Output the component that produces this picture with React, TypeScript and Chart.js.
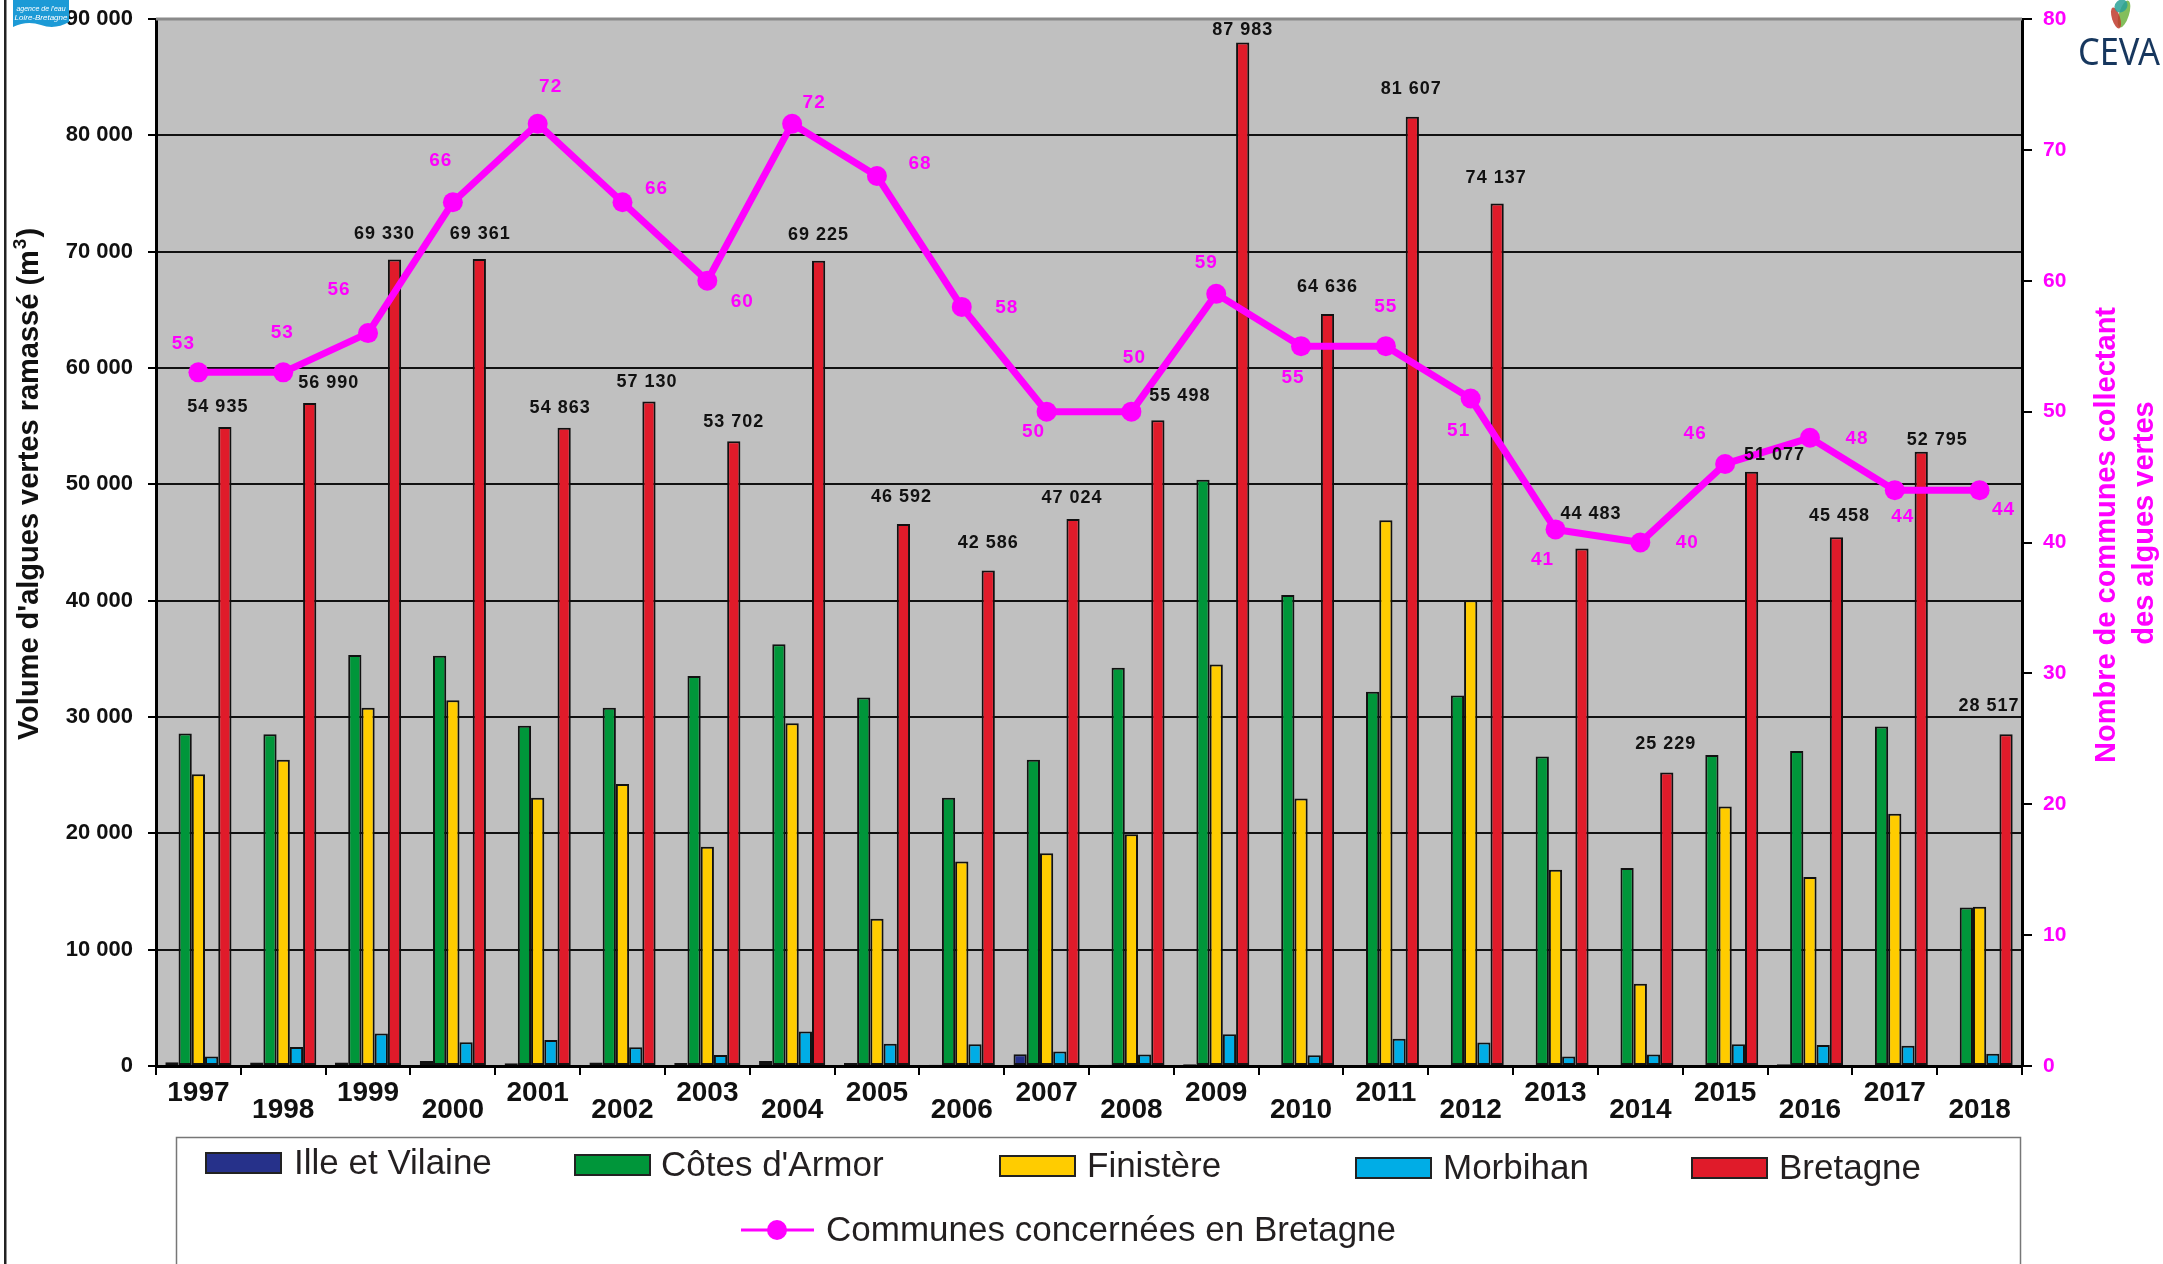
import React, { useEffect, useRef } from 'react';
import { Chart, registerables } from 'chart.js';

Chart.register(...registerables);

// ---------- data ----------
const years = ['1997', '1998', '1999', '2000', '2001', '2002', '2003', '2004', '2005', '2006', '2007', '2008', '2009', '2010', '2011', '2012', '2013', '2014', '2015', '2016', '2017', '2018'];
const illeEtVilaine = [330, 300, 300, 430, 230, 300, 260, 430, 260, 100, 1020, 100, 160, 70, 70, 70, 70, 70, 70, 160, 70, 70];
const cotesDArmor = [28590, 28520, 35330, 35260, 29240, 30790, 33520, 36250, 31680, 23060, 26320, 34240, 50400, 40490, 32170, 31840, 26610, 17010, 26740, 27070, 29180, 13620];
const finistere = [25070, 26320, 30790, 31450, 23060, 24240, 18850, 29470, 12660, 17570, 18290, 19930, 34510, 22990, 46910, 40030, 16875, 7070, 22300, 16250, 21680, 13680];
const morbihan = [820, 1640, 2800, 2040, 2240, 1610, 950, 2960, 1910, 1875, 1250, 990, 2730, 920, 2340, 2010, 820, 990, 1875, 1810, 1740, 1050];
const bretagne = [54935, 56990, 69330, 69361, 54863, 57130, 53702, 69225, 46592, 42586, 47024, 55498, 87983, 64636, 81607, 74137, 44483, 25229, 51077, 45458, 52795, 28517];
const communes = [53, 53, 56, 66, 72, 66, 60, 72, 68, 58, 50, 50, 59, 55, 55, 51, 41, 40, 46, 48, 44, 44];

const volumeMax = 90000;
const volumeStep = 10000;
const communesMax = 80;
const communesStep = 10;

const seriesNames = ['Ille et Vilaine', "Côtes d'Armor", 'Finistère', 'Morbihan', 'Bretagne'];
const lineName = 'Communes concernées en Bretagne';
const leftTitleMain = "Volume d'algues vertes ramassé (m";
const leftTitleSup = '3';
const leftTitleEnd = ')';
const rightTitleLines = ['Nombre de communes collectant', 'des algues vertes'];

// ---------- styling (label nudges, px, relative to mark) ----------
const barLabelNudge: [number, number][] = [
  [-7, -20], [19, -20], [-10, -25], [1, -25], [-4, -20], [-2, -19], [0, -19], [0, -26], [-2, -27], [0, -28], [-1, -21],
  [22, -24], [0, -12], [0, -27], [-1, -28], [-1, -26], [9, -34], [-1, -28], [23, -17], [3, -21], [16, -12], [-17, -28],
];
const lineLabelNudge: [number, number][] = [
  [-15, -29], [-1, -40], [-29, -43], [-12, -41], [13, -37], [34, -13], [35, 21], [22, -21], [43, -12], [45, 1], [-13, 20],
  [3, -54], [-10, -31], [-8, 32], [0, -39], [-12, 32], [-13, 30], [47, 0], [-30, -30], [47, 1], [8, 27], [24, 20],
];

const COLORS = ['#26318a', '#00963a', '#ffcc00', '#00ade6', '#e01b2a'];
const MAGENTA = '#ff00ff';
const FONT = '"Liberation Sans", Arial, sans-serif';

const fmt = (n: number) => String(n).replace(/\B(?=(\d{3})+(?!\d))/g, ' ');

const labelsPlugin = {
  id: 'valueLabels',
  afterDatasetsDraw(chart: any) {
    const ctx = chart.ctx;
    ctx.save();
    ctx.textAlign = 'center';
    ctx.textBaseline = 'middle';
    const barMeta = chart.getDatasetMeta(4);
    ctx.font = `bold 18px ${FONT}`;
    (ctx as any).letterSpacing = '1px';
    ctx.fillStyle = '#111';
    barMeta.data.forEach((el: any, i: number) => {
      const [dx, dy] = barLabelNudge[i];
      ctx.fillText(fmt(bretagne[i]), el.x + dx, el.y + dy);
    });
    const lineMeta = chart.getDatasetMeta(5);
    ctx.font = `bold 19px ${FONT}`;
    ctx.fillStyle = MAGENTA;
    lineMeta.data.forEach((el: any, i: number) => {
      const [dx, dy] = lineLabelNudge[i];
      ctx.fillText(String(communes[i]), el.x + dx, el.y + dy);
    });
    (ctx as any).letterSpacing = '0px';
    ctx.restore();
  },
};

const decorPlugin = {
  id: 'decor',
  beforeDraw(chart: any) {
    const { ctx, chartArea } = chart;
    const { left, top, right, bottom } = chartArea;
    ctx.save();
    ctx.fillStyle = '#ffffff';
    ctx.fillRect(0, 0, chart.width, chart.height);
    ctx.fillStyle = '#c0c0c0';
    ctx.fillRect(left, top, right - left, bottom - top);
    ctx.restore();
  },
  afterDraw(chart: any) {
    const { ctx, chartArea } = chart;
    const { left, top, right } = chartArea;
    ctx.save();
    ctx.strokeStyle = '#8a8a8a';
    ctx.lineWidth = 3;
    ctx.beginPath();
    ctx.moveTo(left, top);
    ctx.lineTo(right, top);
    ctx.stroke();

    ctx.fillStyle = '#222';
    ctx.fillRect(4, 0, 2.5, chart.height);

    // left title
    ctx.save();
    ctx.translate(30, 485);
    ctx.rotate(-Math.PI / 2);
    ctx.fillStyle = '#111';
    ctx.textBaseline = 'middle';
    ctx.textAlign = 'left';
    ctx.font = `bold 29px ${FONT}`;
    const w1 = ctx.measureText(leftTitleMain).width;
    const w3 = ctx.measureText(leftTitleEnd).width;
    ctx.font = `bold 19px ${FONT}`;
    const w2 = ctx.measureText(leftTitleSup).width;
    const total = w1 + w2 + w3;
    const x0 = -total / 2;
    ctx.font = `bold 29px ${FONT}`;
    ctx.fillText(leftTitleMain, x0, 0);
    ctx.font = `bold 19px ${FONT}`;
    ctx.fillText(leftTitleSup, x0 + w1 + 1, -9);
    ctx.font = `bold 29px ${FONT}`;
    ctx.fillText(leftTitleEnd, x0 + w1 + w2 + 2, 0);
    ctx.restore();

    // right title
    const rightPos: [number, number][] = [[2107, 535], [2145, 523]];
    rightTitleLines.forEach((line, i) => {
      ctx.save();
      ctx.translate(rightPos[i][0], rightPos[i][1]);
      ctx.rotate(-Math.PI / 2);
      ctx.fillStyle = MAGENTA;
      ctx.textAlign = 'center';
      ctx.textBaseline = 'middle';
      ctx.font = `bold 29px ${FONT}`;
      ctx.fillText(line, 0, 0);
      ctx.restore();
    });

    // legend
    ctx.strokeStyle = '#777';
    ctx.lineWidth = 1.5;
    ctx.strokeRect(176.5, 1137.5, 2020 - 176, 200);
    const items = [
      { sx: 206, tx: 294, y: 1163 },
      { sx: 575, tx: 661, y: 1165 },
      { sx: 1000, tx: 1087, y: 1166 },
      { sx: 1356, tx: 1443, y: 1168 },
      { sx: 1692, tx: 1779, y: 1168 },
    ];
    ctx.font = `35px ${FONT}`;
    ctx.textAlign = 'left';
    ctx.textBaseline = 'middle';
    items.forEach((it, i) => {
      ctx.fillStyle = COLORS[i];
      ctx.fillRect(it.sx, it.y - 10, 75, 20);
      ctx.strokeStyle = '#222';
      ctx.lineWidth = 2;
      ctx.strokeRect(it.sx, it.y - 10, 75, 20);
      ctx.fillStyle = '#231f20';
      ctx.fillText(seriesNames[i], it.tx, it.y + 1);
    });
    ctx.strokeStyle = MAGENTA;
    ctx.lineWidth = 3;
    ctx.beginPath();
    ctx.moveTo(741, 1230);
    ctx.lineTo(814, 1230);
    ctx.stroke();
    ctx.fillStyle = MAGENTA;
    ctx.beginPath();
    ctx.arc(777, 1230, 10, 0, Math.PI * 2);
    ctx.fill();
    ctx.fillStyle = '#231f20';
    ctx.fillText(lineName, 826, 1231);

    // agency logo (top-left)
    ctx.fillStyle = '#1c9ad6';
    ctx.beginPath();
    ctx.moveTo(13, 0);
    ctx.lineTo(69, 0);
    ctx.lineTo(69, 22);
    ctx.quadraticCurveTo(55, 30, 41, 25);
    ctx.quadraticCurveTo(27, 20, 13, 27);
    ctx.closePath();
    ctx.fill();
    ctx.fillStyle = '#ffffff';
    ctx.textAlign = 'center';
    ctx.font = `italic 7px ${FONT}`;
    ctx.fillText("agence de l'eau", 41, 9);
    ctx.font = `italic 8px ${FONT}`;
    ctx.fillText('Loire-Bretagne', 41, 18);

    // CEVA logo (top-right)
    ctx.globalAlpha = 0.85;
    ctx.fillStyle = '#6db33f';
    ctx.beginPath();
    ctx.ellipse(2124, 14, 5, 14, 0.3, 0, Math.PI * 2);
    ctx.fill();
    ctx.fillStyle = '#c0392b';
    ctx.beginPath();
    ctx.ellipse(2116, 18, 4, 11, -0.3, 0, Math.PI * 2);
    ctx.fill();
    ctx.fillStyle = '#2aa198';
    ctx.beginPath();
    ctx.ellipse(2121, 6, 6, 7, 0.8, 0, Math.PI * 2);
    ctx.fill();
    ctx.globalAlpha = 1;
    ctx.fillStyle = '#17375e';
    ctx.textAlign = 'left';
    ctx.textBaseline = 'alphabetic';
    ctx.font = `38px "Noto Sans", sans-serif`;
    ctx.fillText('CEVA', 2078, 65, 82);
    ctx.restore();
  },
};

export default function App() {
  const ref = useRef<HTMLCanvasElement>(null);
  useEffect(() => {
    document.body.style.margin = '0';
    document.body.style.overflow = 'hidden';
    const barDs = [illeEtVilaine, cotesDArmor, finistere, morbihan, bretagne].map((d, i) => ({
      type: 'bar' as const,
      label: seriesNames[i],
      data: d,
      backgroundColor: COLORS[i],
      borderColor: '#111',
      borderWidth: 2,
      borderSkipped: false,
      yAxisID: 'y',
      categoryPercentage: 0.78,
      barPercentage: 1,
      order: 2,
    }));
    const chart = new Chart(ref.current as HTMLCanvasElement, {
      type: 'bar',
      data: {
        labels: years,
        datasets: [
          ...barDs,
          {
            type: 'line' as const,
            label: lineName,
            data: communes,
            borderColor: MAGENTA,
            backgroundColor: MAGENTA,
            borderWidth: 7,
            pointRadius: 10,
            pointBorderWidth: 0,
            pointBackgroundColor: MAGENTA,
            tension: 0,
            yAxisID: 'y1',
            order: 1,
          } as any,
        ],
      },
      options: {
        responsive: false,
        animation: false,
        devicePixelRatio: 1,
        layout: { padding: { top: 19, left: 0, right: 0, bottom: 0 } },
        plugins: {
          legend: { display: false },
          tooltip: { enabled: false },
          title: { display: false },
        },
        scales: {
          x: {
            type: 'category',
            offset: true,
            grid: {
              offset: true,
              drawOnChartArea: false,
              drawTicks: true,
              tickLength: 9,
              tickColor: '#000',
              lineWidth: 2,
            },
            border: { display: true, color: '#000', width: 3 },
            ticks: {
              autoSkip: false,
              maxRotation: 0,
              minRotation: 0,
              padding: 10,
              color: '#111',
              font: { family: FONT, size: 28, weight: 'bold', lineHeight: '17px' } as any,
              callback: (_v: any, i: number) => (i % 2 === 0 ? [years[i]] : ['', years[i]]),
            },
            afterFit: (s: any) => {
              s.height = 198;
              s.paddingLeft = 0;
              s.paddingRight = 0;
            },
          },
          y: {
            type: 'linear',
            position: 'left',
            min: 0,
            max: volumeMax,
            grid: {
              color: (c: any) => (c.tick && c.tick.value === volumeMax ? '#8a8a8a' : '#111'),
              lineWidth: 2,
              tickLength: 8,
              tickColor: '#000',
            },
            border: { display: true, color: '#000', width: 3 },
            ticks: {
              stepSize: volumeStep,
              padding: 15,
              color: '#111',
              font: { family: FONT, size: 22, weight: 'bold' },
              callback: (v: any) => fmt(Number(v)),
            },
            afterFit: (s: any) => {
              s.width = 156;
              s.paddingTop = 0;
              s.paddingBottom = 0;
            },
          },
          y1: {
            type: 'linear',
            position: 'right',
            min: 0,
            max: communesMax,
            grid: { drawOnChartArea: false, tickLength: 10, tickColor: '#000', lineWidth: 2 },
            border: { display: true, color: '#000', width: 3 },
            ticks: {
              stepSize: communesStep,
              padding: 11,
              color: MAGENTA,
              font: { family: FONT, size: 21, weight: 'bold' },
            },
            afterFit: (s: any) => {
              s.width = 2163 - 2022;
              s.paddingTop = 0;
              s.paddingBottom = 0;
            },
          },
        },
      } as any,
      plugins: [decorPlugin, labelsPlugin],
    });
    return () => chart.destroy();
  }, []);
  return (
    <div style={{ width: 2163, height: 1264, background: '#fff' }}>
      <canvas ref={ref} width={2163} height={1264} style={{ display: 'block', width: 2163, height: 1264 }} />
    </div>
  );
}
